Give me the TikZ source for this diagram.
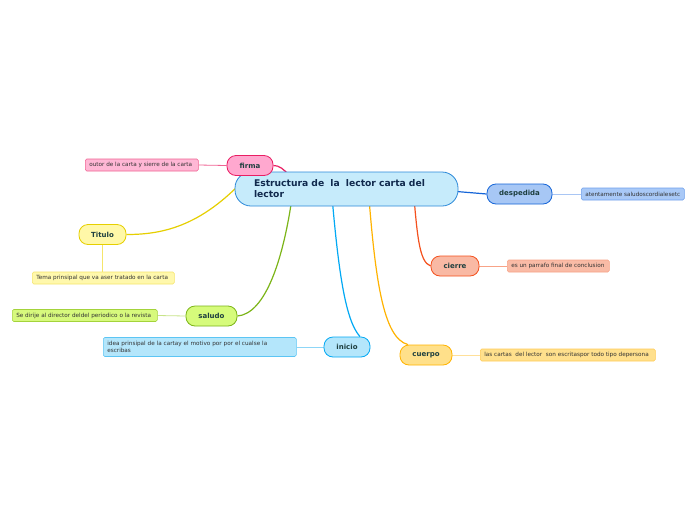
\documentclass[tikz,border=0pt]{standalone}
\usepackage{fontspec}
\setmainfont{DejaVu Sans}
\usetikzlibrary{backgrounds}
\definecolor{ctext}{HTML}{10294D}
\definecolor{ttext}{HTML}{1E3F3F}
\definecolor{ltext}{HTML}{333333}
\definecolor{cfill}{HTML}{C6EBFB}\definecolor{cdraw}{HTML}{2C89D9}
\definecolor{pkfill}{HTML}{FFA8CF}\definecolor{pkdraw}{HTML}{E91E63}\definecolor{pklf}{HTML}{FFB7D5}\definecolor{pkld}{HTML}{F06292}
\definecolor{blfill}{HTML}{A7C7F5}\definecolor{bldraw}{HTML}{1565D8}\definecolor{bllf}{HTML}{A9C9F7}\definecolor{blld}{HTML}{6FA0EC}
\definecolor{orfill}{HTML}{F9B9A4}\definecolor{ordraw}{HTML}{F4511E}\definecolor{orlf}{HTML}{F9BBA6}\definecolor{orld}{HTML}{F8A387}
\definecolor{yefill}{HTML}{FFF8A8}\definecolor{yedraw}{HTML}{E6CF00}\definecolor{yelf}{HTML}{FFF8AC}\definecolor{yeld}{HTML}{F5E56B}
\definecolor{grfill}{HTML}{D6FB7B}\definecolor{grdraw}{HTML}{7CB518}\definecolor{grlf}{HTML}{D7F97D}\definecolor{grld}{HTML}{A4D33B}
\definecolor{skfill}{HTML}{B4E6FB}\definecolor{skdraw}{HTML}{02A9F4}\definecolor{sklf}{HTML}{B4E6FB}\definecolor{skld}{HTML}{5CC5F4}
\definecolor{gofill}{HTML}{FFE08A}\definecolor{godraw}{HTML}{FFB300}\definecolor{golf}{HTML}{FFE08D}\definecolor{gold}{HTML}{FFCB55}
\newcommand{\lftxt}[2]{\makebox[#1][l]{#2}}
\tikzset{
  central/.style={draw=cdraw, fill=cfill, line width=0.8pt, rounded corners=16pt,
    minimum width=223pt, minimum height=34pt, inner xsep=19pt, inner ysep=0pt,
    text width=185pt, align=left, text=ctext,
    font=\fontsize{9.2}{11}\selectfont\bfseries},
  topic/.style={line width=0.8pt, rounded corners=9pt, minimum height=20pt,
    inner sep=0pt, text=ttext, font=\fontsize{7}{8}\selectfont\bfseries},
  leaf/.style={line width=0.6pt, rounded corners=1.5pt, inner xsep=4pt, inner ysep=0pt,
    minimum height=12pt, text=ltext, anchor=west,
    font=\fontsize{5.7}{7.5}\selectfont},
  conn/.style={line width=1.2pt},
  lconn/.style={line width=0.8pt}
}
\begin{document}
\begin{tikzpicture}[x=1pt,y=-1pt]
\useasboundingbox (0,0) rectangle (696,520);
% central
\node[central] (c) at (346.5,189) {Estructura de\ \ la\ \ lector carta del\\lector};
% topics
\node[topic, draw=pkdraw, fill=pkfill, minimum width=46pt] (fi) at (250,165.5) {firma};
\node[topic, draw=bldraw, fill=blfill, minimum width=65pt] (de) at (519.5,194) {despedida};
\node[topic, draw=ordraw, fill=orfill, minimum width=48pt] (ci) at (455,266) {cierre};
\node[topic, draw=yedraw, fill=yefill, minimum width=47pt] (ti) at (102.5,234.5) {Titulo};
\node[topic, draw=grdraw, fill=grfill, minimum width=51pt] (sa) at (211.5,316) {saludo};
\node[topic, draw=skdraw, fill=skfill, minimum width=46pt] (in) at (347,347) {inicio};
\node[topic, draw=godraw, fill=gofill, minimum width=52pt] (cu) at (426,355) {cuerpo};
% leaves
\node[leaf, draw=pkld, fill=pklf] (lfi) at (85,165) {\lftxt{105pt}{outor de la carta y sierre de la carta}};
\node[leaf, draw=blld, fill=bllf] (lde) at (581,194) {\lftxt{95pt}{atentamente saludoscordialesetc}};
\node[leaf, draw=orld, fill=orlf] (lci) at (507,266) {\lftxt{94pt}{es un parrafo final de conclusion}};
\node[leaf, draw=yeld, fill=yelf] (lti) at (32,278) {\lftxt{134pt}{Tema prinsipal que va aser tratado en la carta}};
\node[leaf, draw=grld, fill=grlf] (lsa) at (12,315.5) {\lftxt{137pt}{Se dirije al director deldel periodico o la revista}};
\node[leaf, draw=skld, fill=sklf, minimum height=19pt, text width=185pt, align=left] (lin) at (103,347) {idea prinsipal de la cartay el motivo por por el cualse la\\escribas};
\node[leaf, draw=gold, fill=golf] (lcu) at (480,355) {\lftxt{167pt}{las cartas\ \ del lector\ \ son escritaspor todo tipo depersona}};
% connectors
\begin{scope}[on background layer]
\fill[white] (0,0) rectangle (696,520);
\draw[conn, pkdraw] ([xshift=-45pt,yshift=-2pt]c.center) .. controls +(-8,-8) and (285,165) .. (fi.east);
\draw[conn, bldraw] ([xshift=20pt,yshift=5pt]c.center) -- (de.west);
\draw[conn, ordraw] ([xshift=66pt,yshift=10pt]c.center) .. controls (417,235) and (419,262) .. (ci.west);
\draw[conn, yedraw] ([xshift=-100pt,yshift=12pt]c.center) .. controls (200,228) and (160,234.5) .. (ti.east);
\draw[conn, grdraw] ([xshift=-52pt,yshift=10pt]c.center) .. controls (285,260) and (265,314) .. (sa.east);
\draw[conn, skdraw] ([xshift=-16pt,yshift=10pt]c.center) .. controls (338,270) and (345,320) .. ([xshift=13pt]in.north);
\draw[conn, godraw] ([xshift=21pt,yshift=10pt]c.center) .. controls (375,280) and (383,338) .. (cu.150);
\draw[lconn, pkld] (lfi.east) -- (fi.west);
\draw[lconn, blld!60] (de.east) -- (lde.west);
\draw[lconn, orld] (ci.east) -- (lci.west);
\draw[lconn, yeld] (ti.south) -- (ti.south |- lti.north);
\draw[lconn, grld!60] (lsa.east) -- (sa.west);
\draw[lconn, skld!70] (lin.east) -- (in.west);
\draw[lconn, gold!60] (cu.east) -- (lcu.west);
\end{scope}
\end{tikzpicture}
\end{document}
